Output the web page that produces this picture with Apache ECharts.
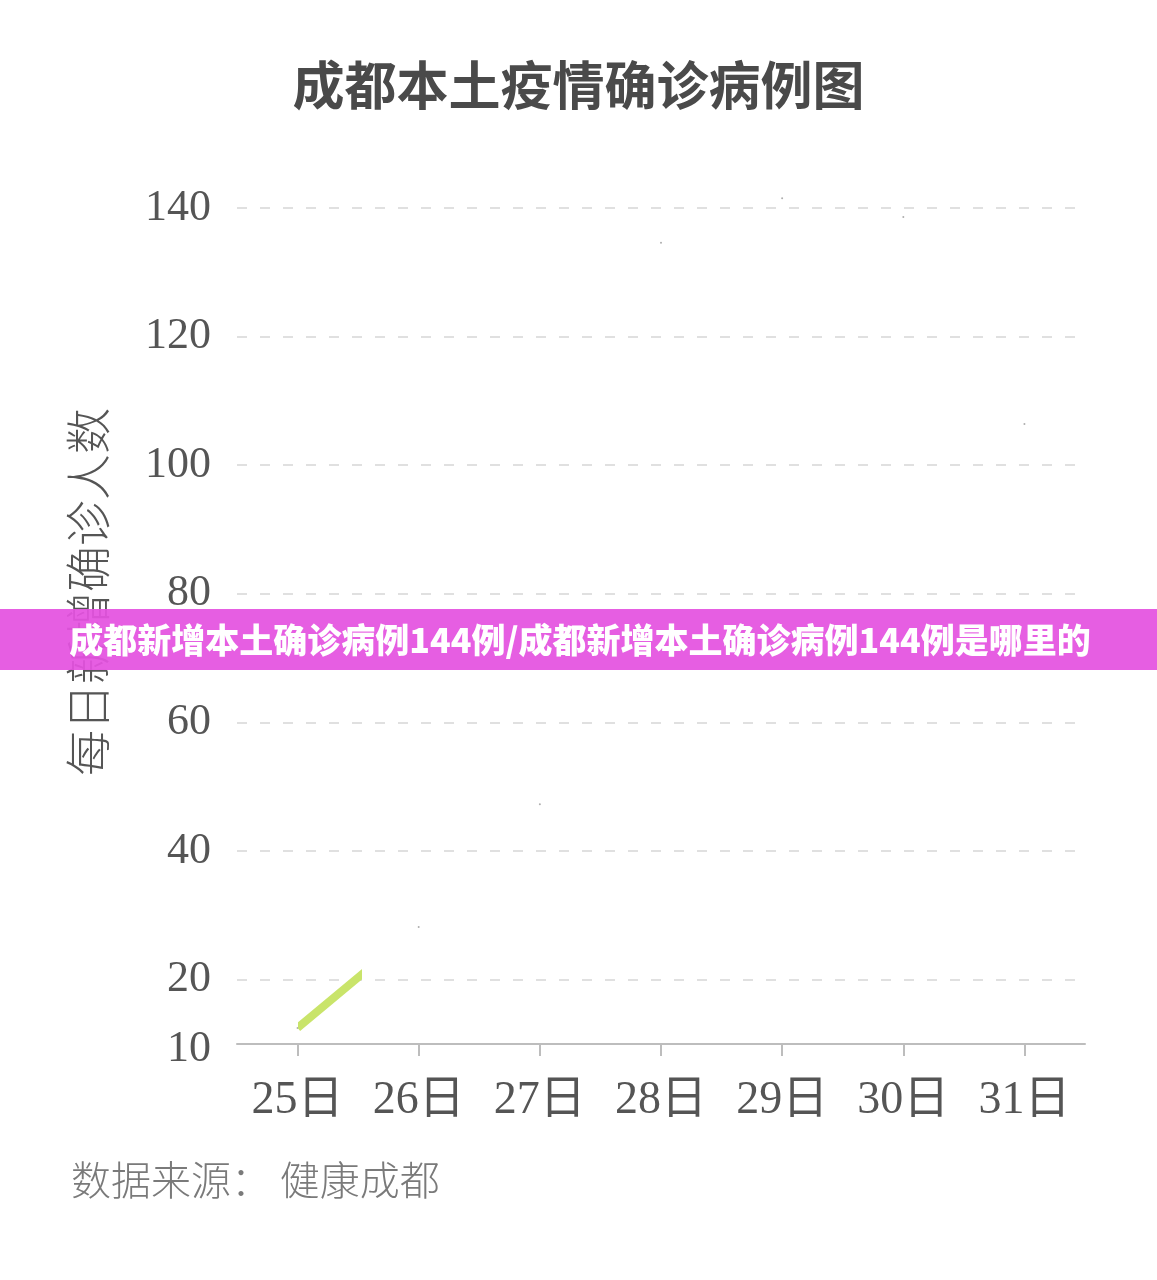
<!DOCTYPE html>
<html>
<head>
<meta charset="utf-8">
<script src="https://cdn.jsdelivr.net/npm/echarts@6/dist/echarts.min.js"></script>
<style>
html,body{margin:0;padding:0;background:#fff;}
#main{width:1157px;height:1280px;}
</style>
</head>
<body>
<div id="main"></div>
<script>
// ---- data ----
var categories = ['25日', '26日', '27日', '28日', '29日', '30日', '31日'];
var dailyCases = [12.5, 28.2, 47.3, 134.6, 141.5, 138.6, 106.4];
var yTickLabels = [10, 20, 40, 60, 80, 100, 120, 140];
var drawnUpTo = 0.53; // portion of the line visible in the reference (in category index units)
var titleText = '成都本土疫情确诊病例图';
var yAxisTitle = '每日新增确诊人数';
var sourceText = '数据来源： 健康成都';
var bannerText = '成都新增本土确诊病例144例/成都新增本土确诊病例144例是哪里的';

var points = dailyCases.map(function (v, i) { return [i, v]; });

var chart = echarts.init(document.getElementById('main'));
var serif = "'Liberation Serif', 'Noto Sans CJK SC', serif";
var cjk = "'Noto Sans CJK SC', sans-serif";

chart.setOption({
  animation: false,
  backgroundColor: '#ffffff',
  title: {
    text: titleText,
    left: 'center',
    top: 54,
    textStyle: { fontFamily: cjk, fontSize: 52, fontWeight: 'bold', color: '#4a4a4a' }
  },
  grid: { left: 237, right: 72, top: 208, bottom: 236, containLabel: false },
  xAxis: [
    {
      type: 'category',
      data: categories,
      boundaryGap: true,
      axisLine: { lineStyle: { color: '#bdbdbd', width: 2 } },
      axisTick: { show: true, alignWithLabel: true, length: 12, lineStyle: { color: '#bdbdbd', width: 2 } },
      axisLabel: { fontFamily: serif, fontSize: 46, color: '#555', margin: 34 },
      splitLine: { show: false }
    },
    {
      type: 'value',
      min: -0.5,
      max: 6.5,
      show: false,
      position: 'bottom'
    }
  ],
  yAxis: {
    type: 'value',
    min: 10,
    max: 140,
    interval: 10,
    axisLine: { show: false },
    axisTick: { show: false },
    axisLabel: {
      fontFamily: serif, fontSize: 44, color: '#555', margin: 26,
      formatter: function (v) {
        if (yTickLabels.indexOf(v) < 0) return '';
        return v === yTickLabels[0] ? '{low|' + v + '}' : String(v);
      },
      rich: { low: { fontFamily: serif, fontSize: 44, color: '#555', padding: [10, 0, 0, 0] } }
    },
    splitLine: {
      show: true,
      lineStyle: { color: ['rgba(0,0,0,0)', '#e0e0e0'], width: 2, type: [10, 13] }
    }
  },
  visualMap: {
    show: false,
    type: 'piecewise',
    seriesIndex: 0,
    dimension: 0,
    pieces: [
      { gte: 0, lt: drawnUpTo, color: '#c9e46a' },
      { gte: drawnUpTo, lte: categories.length - 1, color: 'rgba(255,255,255,0)' }
    ],
    outOfRange: { color: 'rgba(255,255,255,0)' }
  },
  series: [
    {
      type: 'line',
      xAxisIndex: 1,
      data: points,
      showSymbol: false,
      lineStyle: { width: 8, cap: 'butt' },
      z: 3
    },
    {
      type: 'scatter',
      xAxisIndex: 1,
      data: points,
      symbolSize: 2,
      clip: false,
      itemStyle: { color: '#9a9a9a' },
      z: 2
    }
  ],
  graphic: [
    {
      type: 'text',
      x: 88, y: 592,
      rotation: Math.PI / 2,
      style: {
        text: yAxisTitle,
        fontFamily: cjk, fontSize: 46, fontWeight: 300,
        fill: '#555', align: 'center', verticalAlign: 'middle'
      }
    },
    {
      type: 'text',
      left: 71, top: 1160,
      style: { text: sourceText, fontFamily: cjk, fontSize: 40, fontWeight: 300, fill: '#7a7a7a' }
    },
    {
      type: 'rect',
      shape: { x: 0, y: 609, width: 1157, height: 61 },
      style: { fill: 'rgba(228,82,224,0.93)' },
      z: 100
    },
    {
      type: 'text',
      x: 580, y: 640,
      style: {
        text: bannerText, fontFamily: cjk, fontSize: 34, fontWeight: 900,
        fill: '#fff', align: 'center', verticalAlign: 'middle'
      },
      z: 101
    }
  ]
});
</script>
</body>
</html>
